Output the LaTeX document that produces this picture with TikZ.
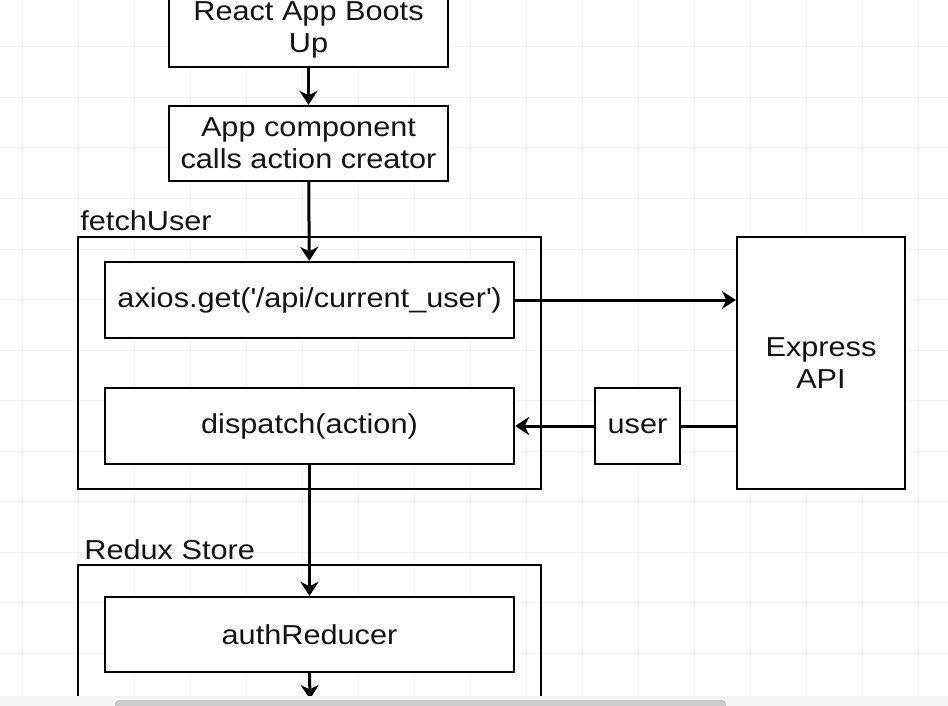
\documentclass[tikz,border=0pt]{standalone}
\usepackage{fontspec}
\setmainfont{Liberation Sans}[FakeStretch=1.12]
\usepackage{xcolor}
\usetikzlibrary{shapes,arrows,arrows.meta,positioning,calc}

\definecolor{gridgray}{HTML}{F1F1F1}
\definecolor{bargray}{HTML}{CBCBCB}
\definecolor{bandgray}{HTML}{F4F4F4}
\definecolor{inkgray}{HTML}{141414}

\tikzset{
  box/.style={draw, line width=1.1pt, fill=white, text=inkgray, align=center,
    font=\fontsize{13.7}{16}\selectfont, inner sep=0pt},
  group/.style={draw, line width=1.1pt, inner sep=0pt},
  grouplabel/.style={text=inkgray, font=\fontsize{13.7}{16}\selectfont, inner sep=0pt},
  flow/.style={-{Stealth[length=7pt, width=9pt, inset=2.2pt]}, line width=1.5pt},
}

\begin{document}
\begin{tikzpicture}[x=0.5pt, y=-0.5pt]
  \clip (0,0) rectangle (948,706);
  \fill[white] (0,0) rectangle (948,706);
  % background grid
  \foreach \x in {0,...,16} {
    \draw[gridgray, line width=0.5pt] (22+\x*56, 0) -- (22+\x*56, 706);
  }
  \foreach \y in {-1,0,...,13} {
    \draw[gridgray, line width=0.5pt] (0, 47+\y*50.5) -- (948, 47+\y*50.5);
  }

  % containers
  \node[group, minimum width=231.5pt, minimum height=126pt] (fetch) at (309.5, 363) {};
  \node[group, minimum width=231.5pt, minimum height=100pt] (store) at (309.5, 665) {};
  \node[grouplabel, anchor=base west] (fetchlbl) at (80, 230) {fetchUser};
  \node[grouplabel, anchor=base west] (storelbl) at (84, 559) {Redux Store};

  % boxes
  \node[box, minimum width=139.5pt, minimum height=37.5pt] (boot) at (308.5, 29.5) {React App Boots\\Up};
  \node[box, minimum width=139.5pt, minimum height=37.5pt] (app) at (308.5, 143.5) {App component\\calls action creator};
  \node[box, minimum width=204.5pt, minimum height=38pt] (axios) at (309.5, 300) {axios.get(\textquotesingle/api/current\_user\textquotesingle)};
  \node[box, minimum width=204.5pt, minimum height=38pt] (dispatch) at (309.5, 426) {dispatch(action)};
  \node[box, minimum width=84pt, minimum height=126pt] (express) at (821, 363) {Express\\API};
  \node[box, minimum width=42.5pt, minimum height=38pt] (user) at (637.5, 426) {user};
  \node[box, minimum width=204.5pt, minimum height=37.5pt] (auth) at (309.5, 634.5) {authReducer};
  \coordinate (storeout) at (310, 699);

  % connectors
  \draw[flow] (boot) -- (app);
  \draw[flow] (app) -- (axios);
  \draw[flow] (axios.east) -- (axios.east -| express.west);
  \draw[line width=1.5pt] (user.east -| express.west) -- (user.east);
  \draw[flow] (user.west) -- (dispatch.east);
  \draw[flow] (dispatch) -- (auth);
  \draw[flow] (auth.south) -- (storeout);

  % scroll bar
  \fill[bandgray] (0,696) rectangle (948,706);
  \fill[bargray, rounded corners=2pt] (115,700) rectangle (726,710);
\end{tikzpicture}
\end{document}
